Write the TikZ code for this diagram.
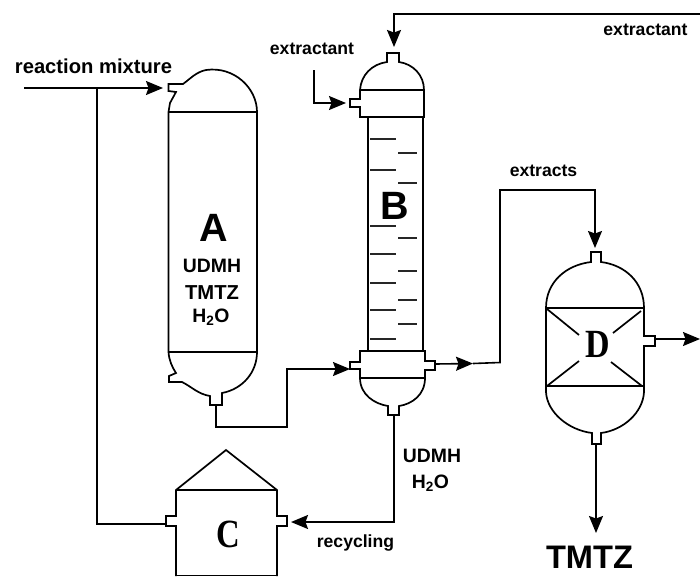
\documentclass[tikz,border=0pt]{standalone}
\usepackage{fontspec}
\setmainfont{Liberation Sans}
\newfontfamily\serifbf[BoldFont={Liberation Serif Bold}]{Liberation Serif}
\usetikzlibrary{arrows.meta}
\tikzset{
  vessel/.style={draw=black,line width=1.7pt,line join=miter},
  tick/.style={draw=black!85,line width=1.5pt},
  pipe/.style={draw=black,line width=1.6pt},
  flow/.style={pipe,-{Stealth[length=17pt,width=14pt,inset=2.5pt]}},
  lab/.style={font=\fontsize{17.6}{19}\selectfont\bfseries,inner sep=0pt,text=black},
  big/.style={font=\fontsize{19.4}{21}\selectfont\bfseries,inner sep=0pt,text=black},
  letter/.style={font=\fontsize{39.5}{44}\selectfont\bfseries,inner sep=0pt,text=black},
  serifletter/.style={font=\serifbf\fontsize{40}{44}\selectfont\bfseries,inner sep=0pt,text=black},
}
\begin{document}
\begin{tikzpicture}[x=1pt,y=-1pt]
\useasboundingbox (0,0) rectangle (700,576);
% ports
\coordinate (feed) at (24,88);
\coordinate (Ain) at (163,88);
\coordinate (Aout) at (216,405);
\coordinate (Aturn) at (216,427);
\coordinate (Arise) at (287,427);
\coordinate (Alevel) at (287,369);
\coordinate (Bin) at (350,369);
\coordinate (Btopin) at (394,47);
\coordinate (solvent) at (700,14);
\coordinate (solventturn) at (394,14);
\coordinate (sideA) at (314,70);
\coordinate (sideB) at (314,103);
\coordinate (sideC) at (346,103);
\coordinate (Bout) at (435,364);
\coordinate (midB) at (473,363.5);
\coordinate (riser) at (500,362.5);
\coordinate (riserT) at (500,190);
\coordinate (overD) at (595,190);
\coordinate (Din) at (595,248);
\coordinate (Bbot) at (394,415);
\coordinate (recyc) at (394,522);
\coordinate (Cin) at (291,522);
\coordinate (junc) at (97,88);
\coordinate (juncB) at (97,524);
\coordinate (Cout) at (166,524);
\coordinate (Dside) at (655,339);
\coordinate (Dexit) at (700,339);
\coordinate (Dbot) at (596,444);
\coordinate (Dprod) at (596,533);
% vessel A
\draw[vessel] (168.5,112) -- (170,103) -- (176,92) -- (168.5,91) -- (168.5,84) -- (183,84)
  .. controls (190,79) and (196,72) .. (206,70) .. controls (234,66) and (257,88) .. (257,112)
  -- (257,352) .. controls (257,372) and (243,389) .. (222,393) -- (222,405) -- (210,405) -- (210,396)
  .. controls (198,394) and (192,387) .. (182,382) -- (169,382) -- (169,376) -- (176,373)
  .. controls (172,367) and (169,360) .. (168.5,352) -- cycle;
\draw[vessel] (168.5,112) -- (257,112);
\draw[vessel] (168.5,352) -- (257,352);
% column B
\draw[vessel] (368,117) -- (368,351);
\draw[vessel] (423,117) -- (423,351);
\draw[vessel] (360,90) .. controls (361,75) and (372,64) .. (387,62) -- (387,53) -- (399,53) -- (399,62)
  .. controls (413,64) and (424,75) .. (424,90) -- (424,117) -- (360,117) -- (360,107) -- (350,107) -- (350,99) -- (360,99) -- cycle;
\draw[vessel] (360,90) -- (424,90);
\draw[vessel] (360,351) -- (425,351) -- (425,361) -- (435,361) -- (435,370) -- (425,370) -- (425,378)
  .. controls (425,395) and (412,404) .. (399,406) -- (399,415) -- (388,415) -- (388,406)
  .. controls (375,404) and (360,395) .. (360,378) -- (360,369) -- (350,369) -- (350,362) -- (360,362) -- cycle;
\draw[vessel] (360,378) -- (425,378);
\foreach \y in {139,170,226,254,283,310,339} \draw[tick] (370,\y) -- (396,\y);
\foreach \y in {153,183,238,271,300,324} \draw[tick] (398,\y) -- (417,\y);
% vessel D
\draw[vessel] (546,308) .. controls (546,282) and (566,265) .. (591,262) -- (591,252) -- (601,252) -- (601,262)
  .. controls (625,265) and (644,282) .. (644,308) -- (644,336) -- (655,336) -- (655,346) -- (644,346) -- (644,392)
  .. controls (643,412) and (624,430) .. (601,433) -- (601,444) -- (592,444) -- (592,433)
  .. controls (568,430) and (547,412) .. (546,392) -- cycle;
\draw[vessel] (546,308) -- (644,308);
\draw[vessel] (546,386) -- (644,386);
\draw[vessel] (547,309) -- (579,335);
\draw[vessel] (641,311) -- (613,333);
\draw[vessel] (547,386) -- (579,361);
\draw[vessel] (642,386) -- (611,362);
% vessel C
\draw[vessel] (176,576) -- (176,526) -- (166,526) -- (166,516) -- (176,516) -- (176,490) -- (226,450) -- (277,490)
  -- (277,516) -- (287,516) -- (287,526) -- (277,526) -- (277,576);
\draw[vessel] (176,490) -- (277,490);
\draw[vessel] (176,575.5) -- (277,575.5);
% pipes
\draw[flow] (feed) -- (Ain);
\draw[pipe] (junc) -- (juncB) -- (Cout);
\draw[flow] (Aout) -- (Aturn) -- (Arise) -- (Alevel) -- (Bin);
\draw[flow] (solvent) -- (solventturn) -- (Btopin);
\draw[flow] (sideA) -- (sideB) -- (sideC);
\draw[flow] (Bout) -- (midB);
\draw[flow] (midB) -- (riser) -- (riserT) -- (overD) -- (Din);
\draw[flow] (Bbot) -- (recyc) -- (Cin);
\draw[flow] (Dside) -- (Dexit);
\draw[flow] (Dbot) -- (Dprod);
% labels
\node[lab,font=\fontsize{20.2}{22}\selectfont\bfseries] (t1) at (93.5,66.5) {reaction mixture};
\node[lab] (t2) at (645.5,30) {extractant};
\node[lab] (t3) at (312,49) {extractant};
\node[lab] (t4) at (543.5,171) {extracts};
\node[big] (t5) at (432,456) {UDMH};
\node[big] (t6) at (430.5,483) {H\textsubscript{2}O};
\node[lab] (t7) at (355.5,543) {recycling};
\node[font=\fontsize{32.6}{34}\selectfont\bfseries,inner sep=0pt] (t8) at (589.5,557.5) {TMTZ};
\node[letter] (lA) at (214,228) {A};
\node[big] (t9) at (212,266) {UDMH};
\node[big,font=\fontsize{20.2}{22}\selectfont\bfseries] (t10) at (212,293) {TMTZ};
\node[big] (t11) at (211,317) {H\textsubscript{2}O};
\node[letter] (lB) at (395,206) {B};
\node[serifletter] (lC) at (228,534) {\scalebox{.82}[1]{C}};
\node[serifletter] (lD) at (598,344) {\scalebox{.85}[1]{D}};
\end{tikzpicture}
\end{document}
